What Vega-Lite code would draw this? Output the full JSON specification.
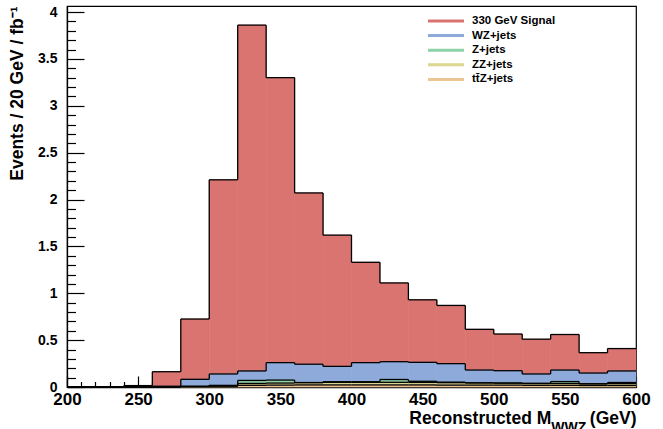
{
  "$schema": "https://vega.github.io/schema/vega-lite/v6.json",
  "width": 569,
  "height": 381,
  "autosize": {"type": "none"},
  "padding": {"left": 67, "top": 6, "right": 27, "bottom": 42},
  "background": "white",
  "config": {
    "font": "Liberation Sans",
    "view": {"stroke": "black", "strokeWidth": 1.2}
  },
  "data": {"values": [
    {"series": "330 GeV Signal", "rank": 5, "x": 200, "x2": 220, "v": 0},
    {"series": "330 GeV Signal", "rank": 5, "x": 220, "x2": 240, "v": 0},
    {"series": "330 GeV Signal", "rank": 5, "x": 240, "x2": 260, "v": 0.012},
    {"series": "330 GeV Signal", "rank": 5, "x": 260, "x2": 280, "v": 0.155},
    {"series": "330 GeV Signal", "rank": 5, "x": 280, "x2": 300, "v": 0.643},
    {"series": "330 GeV Signal", "rank": 5, "x": 300, "x2": 320, "v": 2.071},
    {"series": "330 GeV Signal", "rank": 5, "x": 320, "x2": 340, "v": 3.689},
    {"series": "330 GeV Signal", "rank": 5, "x": 340, "x2": 360, "v": 3.04},
    {"series": "330 GeV Signal", "rank": 5, "x": 360, "x2": 380, "v": 1.827},
    {"series": "330 GeV Signal", "rank": 5, "x": 380, "x2": 400, "v": 1.4},
    {"series": "330 GeV Signal", "rank": 5, "x": 400, "x2": 420, "v": 1.07},
    {"series": "330 GeV Signal", "rank": 5, "x": 420, "x2": 440, "v": 0.84},
    {"series": "330 GeV Signal", "rank": 5, "x": 440, "x2": 460, "v": 0.667},
    {"series": "330 GeV Signal", "rank": 5, "x": 460, "x2": 480, "v": 0.621},
    {"series": "330 GeV Signal", "rank": 5, "x": 480, "x2": 500, "v": 0.434},
    {"series": "330 GeV Signal", "rank": 5, "x": 500, "x2": 520, "v": 0.391},
    {"series": "330 GeV Signal", "rank": 5, "x": 520, "x2": 540, "v": 0.371},
    {"series": "330 GeV Signal", "rank": 5, "x": 540, "x2": 560, "v": 0.379},
    {"series": "330 GeV Signal", "rank": 5, "x": 560, "x2": 580, "v": 0.217},
    {"series": "330 GeV Signal", "rank": 5, "x": 580, "x2": 600, "v": 0.239},
    {"series": "WZ+jets", "rank": 4, "x": 200, "x2": 220, "v": 0},
    {"series": "WZ+jets", "rank": 4, "x": 220, "x2": 240, "v": 0},
    {"series": "WZ+jets", "rank": 4, "x": 240, "x2": 260, "v": 0.003},
    {"series": "WZ+jets", "rank": 4, "x": 260, "x2": 280, "v": 0.008},
    {"series": "WZ+jets", "rank": 4, "x": 280, "x2": 300, "v": 0.075},
    {"series": "WZ+jets", "rank": 4, "x": 300, "x2": 320, "v": 0.123},
    {"series": "WZ+jets", "rank": 4, "x": 320, "x2": 340, "v": 0.101},
    {"series": "WZ+jets", "rank": 4, "x": 340, "x2": 360, "v": 0.186},
    {"series": "WZ+jets", "rank": 4, "x": 360, "x2": 380, "v": 0.196},
    {"series": "WZ+jets", "rank": 4, "x": 380, "x2": 400, "v": 0.164},
    {"series": "WZ+jets", "rank": 4, "x": 400, "x2": 420, "v": 0.204},
    {"series": "WZ+jets", "rank": 4, "x": 420, "x2": 440, "v": 0.19},
    {"series": "WZ+jets", "rank": 4, "x": 440, "x2": 460, "v": 0.202},
    {"series": "WZ+jets", "rank": 4, "x": 460, "x2": 480, "v": 0.197},
    {"series": "WZ+jets", "rank": 4, "x": 480, "x2": 500, "v": 0.137},
    {"series": "WZ+jets", "rank": 4, "x": 500, "x2": 520, "v": 0.132},
    {"series": "WZ+jets", "rank": 4, "x": 520, "x2": 540, "v": 0.101},
    {"series": "WZ+jets", "rank": 4, "x": 540, "x2": 560, "v": 0.123},
    {"series": "WZ+jets", "rank": 4, "x": 560, "x2": 580, "v": 0.115},
    {"series": "WZ+jets", "rank": 4, "x": 580, "x2": 600, "v": 0.123},
    {"series": "Z+jets", "rank": 3, "x": 200, "x2": 220, "v": 0},
    {"series": "Z+jets", "rank": 3, "x": 220, "x2": 240, "v": 0},
    {"series": "Z+jets", "rank": 3, "x": 240, "x2": 260, "v": 0},
    {"series": "Z+jets", "rank": 3, "x": 260, "x2": 280, "v": 0},
    {"series": "Z+jets", "rank": 3, "x": 280, "x2": 300, "v": 0},
    {"series": "Z+jets", "rank": 3, "x": 300, "x2": 320, "v": 0},
    {"series": "Z+jets", "rank": 3, "x": 320, "x2": 340, "v": 0.032},
    {"series": "Z+jets", "rank": 3, "x": 340, "x2": 360, "v": 0.032},
    {"series": "Z+jets", "rank": 3, "x": 360, "x2": 380, "v": 0},
    {"series": "Z+jets", "rank": 3, "x": 380, "x2": 400, "v": 0.006},
    {"series": "Z+jets", "rank": 3, "x": 400, "x2": 420, "v": 0.006},
    {"series": "Z+jets", "rank": 3, "x": 420, "x2": 440, "v": 0.03},
    {"series": "Z+jets", "rank": 3, "x": 440, "x2": 460, "v": 0.012},
    {"series": "Z+jets", "rank": 3, "x": 460, "x2": 480, "v": 0.006},
    {"series": "Z+jets", "rank": 3, "x": 480, "x2": 500, "v": 0},
    {"series": "Z+jets", "rank": 3, "x": 500, "x2": 520, "v": 0},
    {"series": "Z+jets", "rank": 3, "x": 520, "x2": 540, "v": 0},
    {"series": "Z+jets", "rank": 3, "x": 540, "x2": 560, "v": 0.02},
    {"series": "Z+jets", "rank": 3, "x": 560, "x2": 580, "v": 0},
    {"series": "Z+jets", "rank": 3, "x": 580, "x2": 600, "v": 0.012},
    {"series": "ZZ+jets", "rank": 2, "x": 200, "x2": 220, "v": 0},
    {"series": "ZZ+jets", "rank": 2, "x": 220, "x2": 240, "v": 0},
    {"series": "ZZ+jets", "rank": 2, "x": 240, "x2": 260, "v": 0},
    {"series": "ZZ+jets", "rank": 2, "x": 260, "x2": 280, "v": 0},
    {"series": "ZZ+jets", "rank": 2, "x": 280, "x2": 300, "v": 0.004},
    {"series": "ZZ+jets", "rank": 2, "x": 300, "x2": 320, "v": 0.008},
    {"series": "ZZ+jets", "rank": 2, "x": 320, "x2": 340, "v": 0.02},
    {"series": "ZZ+jets", "rank": 2, "x": 340, "x2": 360, "v": 0.022},
    {"series": "ZZ+jets", "rank": 2, "x": 360, "x2": 380, "v": 0.025},
    {"series": "ZZ+jets", "rank": 2, "x": 380, "x2": 400, "v": 0.028},
    {"series": "ZZ+jets", "rank": 2, "x": 400, "x2": 420, "v": 0.028},
    {"series": "ZZ+jets", "rank": 2, "x": 420, "x2": 440, "v": 0.028},
    {"series": "ZZ+jets", "rank": 2, "x": 440, "x2": 460, "v": 0.027},
    {"series": "ZZ+jets", "rank": 2, "x": 460, "x2": 480, "v": 0.026},
    {"series": "ZZ+jets", "rank": 2, "x": 480, "x2": 500, "v": 0.024},
    {"series": "ZZ+jets", "rank": 2, "x": 500, "x2": 520, "v": 0.022},
    {"series": "ZZ+jets", "rank": 2, "x": 520, "x2": 540, "v": 0.02},
    {"series": "ZZ+jets", "rank": 2, "x": 540, "x2": 560, "v": 0.02},
    {"series": "ZZ+jets", "rank": 2, "x": 560, "x2": 580, "v": 0.018},
    {"series": "ZZ+jets", "rank": 2, "x": 580, "x2": 600, "v": 0.02},
    {"series": "tt̄Z+jets", "rank": 1, "x": 200, "x2": 220, "v": 0},
    {"series": "tt̄Z+jets", "rank": 1, "x": 220, "x2": 240, "v": 0},
    {"series": "tt̄Z+jets", "rank": 1, "x": 240, "x2": 260, "v": 0},
    {"series": "tt̄Z+jets", "rank": 1, "x": 260, "x2": 280, "v": 0},
    {"series": "tt̄Z+jets", "rank": 1, "x": 280, "x2": 300, "v": 0.003},
    {"series": "tt̄Z+jets", "rank": 1, "x": 300, "x2": 320, "v": 0.008},
    {"series": "tt̄Z+jets", "rank": 1, "x": 320, "x2": 340, "v": 0.018},
    {"series": "tt̄Z+jets", "rank": 1, "x": 340, "x2": 360, "v": 0.02},
    {"series": "tt̄Z+jets", "rank": 1, "x": 360, "x2": 380, "v": 0.022},
    {"series": "tt̄Z+jets", "rank": 1, "x": 380, "x2": 400, "v": 0.022},
    {"series": "tt̄Z+jets", "rank": 1, "x": 400, "x2": 420, "v": 0.022},
    {"series": "tt̄Z+jets", "rank": 1, "x": 420, "x2": 440, "v": 0.022},
    {"series": "tt̄Z+jets", "rank": 1, "x": 440, "x2": 460, "v": 0.022},
    {"series": "tt̄Z+jets", "rank": 1, "x": 460, "x2": 480, "v": 0.02},
    {"series": "tt̄Z+jets", "rank": 1, "x": 480, "x2": 500, "v": 0.02},
    {"series": "tt̄Z+jets", "rank": 1, "x": 500, "x2": 520, "v": 0.02},
    {"series": "tt̄Z+jets", "rank": 1, "x": 520, "x2": 540, "v": 0.018},
    {"series": "tt̄Z+jets", "rank": 1, "x": 540, "x2": 560, "v": 0.018},
    {"series": "tt̄Z+jets", "rank": 1, "x": 560, "x2": 580, "v": 0.016},
    {"series": "tt̄Z+jets", "rank": 1, "x": 580, "x2": 600, "v": 0.016}
  ]},
  "transform": [
    {"stack": "v", "groupby": ["x"], "sort": [{"field": "rank", "order": "ascending"}], "as": ["y0", "y1"]},
    {"window": [{"op": "lag", "field": "y1", "param": 1, "as": "prev"}], "groupby": ["series"], "sort": [{"field": "x", "order": "ascending"}]}
  ],
  "layer": [
    {
      "mark": {"type": "bar", "strokeWidth": 0.6},
      "encoding": {
        "x": {
          "field": "x", "type": "quantitative",
          "scale": {"domain": [200, 600], "nice": false, "zero": false},
          "axis": {
            "title": "Reconstructed M\u2003\u2003\u2009(GeV)",
            "titleAnchor": "end",
            "titleFontSize": 17.5,
            "titleFontWeight": "bold",
            "titleColor": "black",
            "titlePadding": -3,
            "values": [200,210,220,230,240,250,260,270,280,290,300,310,320,330,340,350,360,370,380,390,400,410,420,430,440,450,460,470,480,490,500,510,520,530,540,550,560,570,580,590,600],
            "tickCount": 200,
            "labelExpr": "datum.value % 50 === 0 ? format(datum.value, 'd') : ''",
            "tickSize": {"condition": {"test": "datum.value % 50 === 0", "value": -11}, "value": -5.5},
            "labelPadding": 15,
            "labelFontSize": 17,
            "labelFontWeight": "bold",
            "labelColor": "black",
            "labelFlush": false,
            "labelOverlap": false,
            "grid": false,
            "domainColor": "black",
            "domainWidth": 1.3,
            "tickColor": "black",
            "tickWidth": 1.2
          }
        },
        "x2": {"field": "x2"},
        "y": {
          "field": "y1", "type": "quantitative",
          "scale": {"domain": [0, 4.064], "nice": false},
          "axis": {
            "title": "Events / 20 GeV / fb⁻¹",
            "titleAnchor": "end",
            "titleFontSize": 17.5,
            "titleFontWeight": "bold",
            "titleColor": "black",
            "titlePadding": 11,
            "values": [0,0.1,0.2,0.3,0.4,0.5,0.6,0.7,0.8,0.9,1,1.1,1.2,1.3,1.4,1.5,1.6,1.7,1.8,1.9,2,2.1,2.2,2.3,2.4,2.5,2.6,2.7,2.8,2.9,3,3.1,3.2,3.3,3.4,3.5,3.6,3.7,3.8,3.9,4],
            "tickCount": 200,
            "labelExpr": "abs(datum.value*2 - round(datum.value*2)) < 0.001 ? format(datum.value, '~g') : ''",
            "tickSize": {"condition": {"test": "abs(datum.value*2 - round(datum.value*2)) < 0.001", "value": -17}, "value": -8.5},
            "labelPadding": 27,
            "labelFontSize": 14,
            "labelFontWeight": "bold",
            "labelColor": "black",
            "labelFlush": false,
            "labelOverlap": false,
            "grid": false,
            "domainColor": "black",
            "domainWidth": 1.3,
            "tickColor": "black",
            "tickWidth": 1.2
          }
        },
        "y2": {"field": "y0"},
        "color": {
          "field": "series", "type": "nominal",
          "scale": {
            "domain": ["330 GeV Signal", "WZ+jets", "Z+jets", "ZZ+jets", "tt̄Z+jets"],
            "range": ["#d97470", "#8daadb", "#8ed2aa", "#dbd690", "#ebc592"]
          },
          "legend": {
            "title": null,
            "orient": "none",
            "legendX": 371.5,
            "legendY": 7.5,
            "padding": 0,
            "symbolType": "M-3,0H3",
            "symbolSize": 144,
            "symbolStrokeWidth": 3,
            "labelFontSize": 11.5,
            "labelFontWeight": "bold",
            "labelColor": "black",
            "labelOffset": 18.5,
            "rowPadding": 0.6,
            "encode": {"symbols": {"update": {"stroke": {"scale": "color", "field": "value"}, "fill": {"value": "transparent"}}}}
          }
        },
        "stroke": {
          "field": "series", "type": "nominal",
          "scale": {
            "domain": ["330 GeV Signal", "WZ+jets", "Z+jets", "ZZ+jets", "tt̄Z+jets"],
            "range": ["#d97470", "#8daadb", "#8ed2aa", "#dbd690", "#ebc592"]
          },
          "legend": null
        }
      }
    },
    {
      "mark": {"type": "rule", "color": "black", "strokeWidth": 1.3},
      "encoding": {
        "x": {"field": "x", "type": "quantitative"},
        "x2": {"field": "x2"},
        "y": {"field": "y1", "type": "quantitative"}
      }
    },
    {
      "transform": [{"filter": "datum.prev != null"}],
      "mark": {"type": "rule", "color": "black", "strokeWidth": 1.3},
      "encoding": {
        "x": {"field": "x", "type": "quantitative"},
        "y": {"field": "prev", "type": "quantitative"},
        "y2": {"field": "y1"}
      }
    },
    {
      "data": {"values": [{"t": "WWZ"}]},
      "mark": {"type": "text", "align": "left", "baseline": "alphabetic", "fontSize": 14, "fontWeight": "bold", "color": "black"},
      "encoding": {
        "text": {"field": "t"},
        "x": {"datum": 540.5, "type": "quantitative"},
        "y": {"datum": -0.475, "type": "quantitative"}
      }
    }
  ]
}
